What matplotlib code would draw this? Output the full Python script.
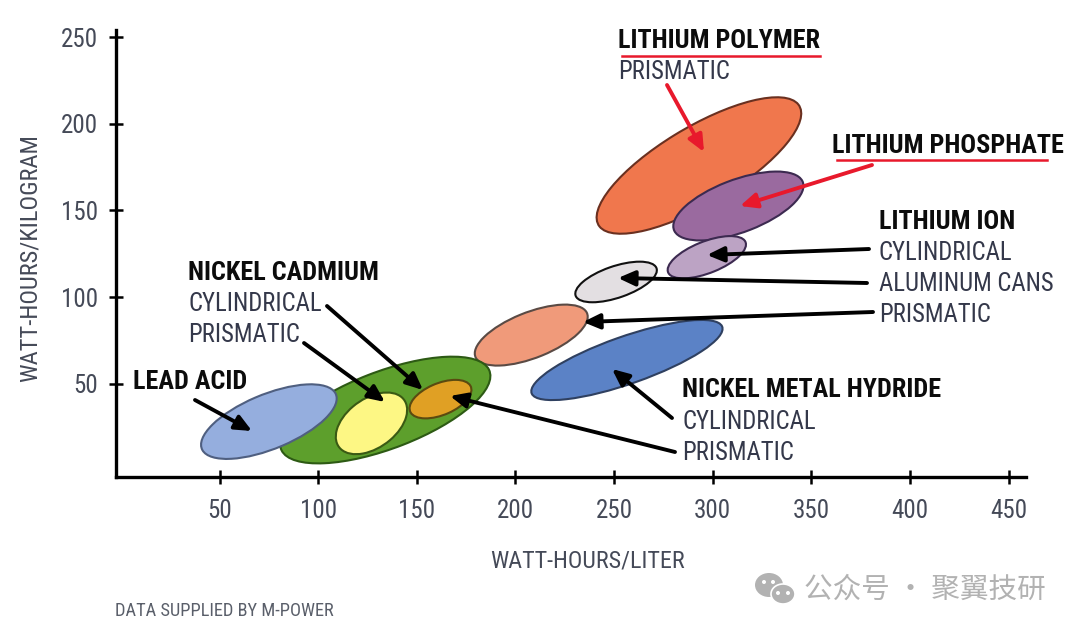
# Energy density chart for battery chemistries

import matplotlib
matplotlib.use('Agg')
import matplotlib.pyplot as plt
from matplotlib.patches import Ellipse

plt.rcParams['font.family'] = ['Roboto Condensed', 'Noto Sans CJK SC', 'DejaVu Sans']

# region data: centre, long axis, short axis, tilt (drawn in this order)
regions = ['li_poly', 'li_phos', 'li_ion', 'grey', 'salmon', 'nimh', 'nicd', 'lead', 'nicd_cyl', 'nicd_pri']
wh_liter = [293, 313, 297, 251, 208, 256.5, 134, 75, 127, 162]
wh_kg = [176, 152.6, 123, 108.7, 78, 63.6, 34.7, 28, 27, 41]
long_axis = [123, 71, 43, 44, 62, 104, 115, 75, 43, 34]
short_axis = [43, 30, 18, 18, 26, 27, 44, 31, 27, 18]
tilt = [35, 24, 25, 22, 25, 22, 24, 26, 44, 27]
fills = ['#f0774d', '#9a6a9f', '#bca3c4', '#e3dfe2', '#f09a7a', '#5b82c6', '#5d9f2c', '#95aede', '#fdf784', '#e0a024']
edges = ['#6a3020', '#3c2a50', '#3c2a50', '#111111', '#5a4a44', '#2f4060', '#2d5a14', '#4f5f80', '#3a5a14', '#5a4a10']

x_ticks = [50, 100, 150, 200, 250, 300, 350, 400, 450]
y_ticks = [50, 100, 150, 200, 250]

# text in picture pixels: label, left, centre y
heads = [('LITHIUM POLYMER', 618, 41), ('LITHIUM PHOSPHATE', 832, 146), ('LITHIUM ION', 879, 222),
         ('NICKEL METAL HYDRIDE', 682, 390), ('NICKEL CADMIUM', 188, 273), ('LEAD ACID', 133, 382)]
subs = [('PRISMATIC', 618, 72), ('CYLINDRICAL', 879, 253), ('ALUMINUM CANS', 879, 284), ('PRISMATIC', 879, 315),
        ('CYLINDRICAL', 682, 422), ('PRISMATIC', 682, 453), ('CYLINDRICAL', 188, 304), ('PRISMATIC', 188, 335)]

black_arrows = [((195, 400), (252, 431)), ((304, 343), (385, 402)), ((327, 306), (423, 390)),
                ((675, 452), (450, 396)), ((672, 418), (612, 369)), ((873, 312), (583, 322)),
                ((867, 283), (618, 278)), ((869, 249), (707, 255))]
red_arrows = [((872, 165), (740, 206)), ((667, 85), (704, 152))]

fig = plt.figure(figsize=(10.8, 6.32), dpi=100)
ax = fig.add_axes([116 / 1080, 1 - 477 / 632, 910 / 1080, 447 / 632])
ax.set_xlim(-2.5, 458.8)
ax.set_ylim(-4, 254.3)

for i in range(len(regions)):
    ax.add_patch(Ellipse((wh_liter[i], wh_kg[i]), long_axis[i], short_axis[i], angle=tilt[i],
                         facecolor=fills[i], edgecolor=edges[i], linewidth=1.5))

ax.spines['top'].set_visible(False)
ax.spines['right'].set_visible(False)
ax.spines['left'].set_linewidth(2.4)
ax.spines['bottom'].set_linewidth(2.4)
ax.set_xticks(x_ticks)
ax.set_yticks(y_ticks)
ax.tick_params(axis='both', direction='inout', length=10, width=1.8, labelsize=18, labelcolor='#454a58')
ax.tick_params(axis='x', pad=11)
ax.tick_params(axis='y', pad=8)

# overlay in picture pixels for labels and arrows
ov = fig.add_axes([0, 0, 1, 1])
ov.set_xlim(0, 1080)
ov.set_ylim(632, 0)
ov.axis('off')

for label, x, y in heads:
    ov.text(x, y, label, fontsize=18.8, fontweight='bold', color='#0c0c0c', va='center')
for label, x, y in subs:
    ov.text(x, y, label, fontsize=17.8, color='#34384a', va='center')

for start, end in black_arrows:
    ov.annotate('', xy=end, xytext=start,
                arrowprops=dict(arrowstyle='-|>,head_length=1.0,head_width=0.45', color='black', lw=2.8, shrinkA=0, shrinkB=0))
for start, end in red_arrows:
    ov.annotate('', xy=end, xytext=start,
                arrowprops=dict(arrowstyle='-|>,head_length=1.0,head_width=0.45', color='#e8192c', lw=2.8, shrinkA=0, shrinkB=0))

ov.plot([622, 820], [56, 56], color='#e8192c', lw=1.8)
ov.plot([837, 1047], [160, 160], color='#e8192c', lw=1.8)

ov.text(587, 561, 'WATT-HOURS/LITER', fontsize=17.3, color='#454a58', ha='center', va='center')
ov.text(30, 258, 'WATT-HOURS/KILOGRAM', fontsize=17.6, color='#454a58', ha='center', va='center', rotation=90)
ov.text(115, 611, 'DATA SUPPLIED BY M-POWER', fontsize=13.2, color='#5a5f6a', va='center')

# watermark
ov.add_patch(Ellipse((769, 585), 28, 24, facecolor='#b2b2b2', edgecolor='none'))
ov.add_patch(Ellipse((783, 594), 24, 20, facecolor='#b2b2b2', edgecolor='white', linewidth=1.2))
for ex, ey in [(764, 582), (773, 582), (778, 593), (788, 593)]:
    ov.add_patch(Ellipse((ex, ey), 4, 4, facecolor='white', edgecolor='none'))
ov.text(804, 590, '公众号 · 聚翼技研', fontsize=20.6, color='#b2b2b2', va='center', family=['Noto Sans CJK SC', 'DejaVu Sans'])

fig.savefig('out.png', dpi=100)
